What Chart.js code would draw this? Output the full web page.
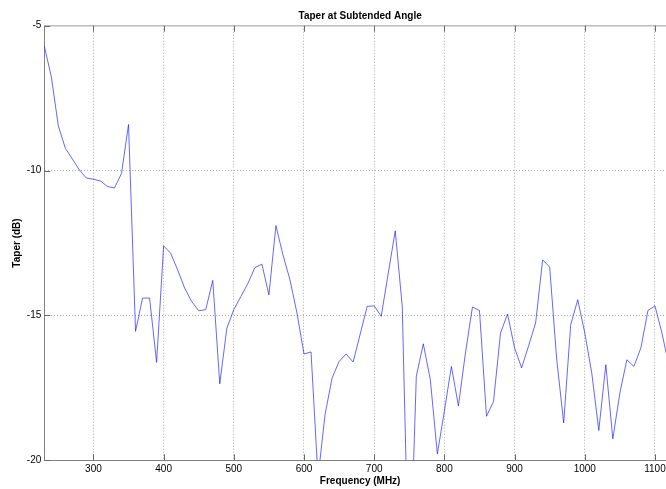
<!DOCTYPE html>
<html>
<head>
<meta charset="utf-8">
<title>Taper at Subtended Angle</title>
<script src="https://cdn.jsdelivr.net/npm/chart.js@4/dist/chart.umd.min.js"></script>
<style>
html, body { margin: 0; padding: 0; overflow: hidden; background: #fff; }
canvas { display: block; }
</style>
</head>
<body>
<canvas id="grafico" width="676" height="489"></canvas>
<script>
// frecuencia (MHz) cada 10 MHz y taper medido (dB)
const frecuencias = [230,240,250,260,270,280,290,300,310,320,330,340,350,360,370,380,390,400,
  410,420,430,440,450,460,470,480,490,500,510,520,530,540,550,560,570,580,590,600,
  610,620,630,640,650,660,670,680,690,700,710,720,730,740,750,760,770,780,790,800,
  810,820,830,840,850,860,870,880,890,900,910,920,930,940,950,960,970,980,990,1000,
  1010,1020,1030,1040,1050,1060,1070,1080,1090,1100,1110,1120];
const taper = [-5.70,-6.76,-8.46,-9.23,-9.60,-9.98,-10.26,-10.30,-10.36,-10.55,-10.60,-10.10,-8.41,-15.55,-14.40,-14.40,-16.62,-12.60,
  -12.85,-13.43,-14.06,-14.52,-14.84,-14.80,-13.79,-17.36,-15.45,-14.80,-14.35,-13.90,-13.35,-13.23,-14.29,-11.90,-12.91,-13.77,-14.92,-16.33,
  -16.26,-20.60,-18.42,-17.16,-16.59,-16.33,-16.61,-15.65,-14.69,-14.67,-15.03,-13.55,-12.08,-14.69,-24.80,-17.10,-15.98,-17.22,-19.78,-18.30,
  -16.76,-18.12,-16.30,-14.71,-14.83,-18.48,-17.97,-15.61,-14.95,-16.12,-16.81,-16.05,-15.26,-13.08,-13.33,-16.50,-18.71,-15.32,-14.46,-15.60,
  -16.99,-18.97,-16.70,-19.26,-17.68,-16.53,-16.76,-16.12,-14.83,-14.67,-15.61,-16.75];
const ticksX = [300,400,500,600,700,800,900,1000,1100];
const ticksY = [-20,-15,-10,-5];

const fuente = "'Liberation Sans', Arial, Helvetica, sans-serif";

// marco superior y marcas de division hacia dentro
const marco = {
  id: 'marco',
  afterDraw(chart) {
    const {ctx, chartArea: a, scales} = chart;
    ctx.save();
    ctx.strokeStyle = '#bdbdbd';
    ctx.lineWidth = 1.5;
    ctx.beginPath();
    ctx.moveTo(a.left, a.top);
    ctx.lineTo(a.right, a.top);
    ctx.stroke();

    ctx.strokeStyle = '#6a6a6a';
    ctx.lineWidth = 1;
    ctx.beginPath();
    ticksX.forEach(v => {
      const px = Math.round(scales.x.getPixelForValue(v)) + 0.5;
      ctx.moveTo(px, a.top); ctx.lineTo(px, a.top + 6);
      ctx.moveTo(px, a.bottom); ctx.lineTo(px, a.bottom - 6);
    });
    ticksY.forEach(v => {
      const py = Math.round(scales.y.getPixelForValue(v)) + 0.5;
      ctx.moveTo(a.left, py); ctx.lineTo(a.left + 6, py);
    });
    ctx.stroke();
    ctx.restore();
  }
};

function graficar() {
  const ctx = document.getElementById('grafico').getContext('2d');
  new Chart(ctx, {
    type: 'line',
    data: {
      datasets: [{
        data: frecuencias.map((f, i) => ({x: f, y: taper[i]})),
        borderColor: 'rgba(0, 0, 255, 0.6)',
        borderWidth: 1,
        pointRadius: 0,
        tension: 0,
        fill: false
      }]
    },
    options: {
      responsive: false,
      animation: false,
      layout: { padding: 0 },
      plugins: {
        legend: { display: false },
        tooltip: { enabled: false },
        title: {
          display: true,
          fullSize: false,
          text: 'Taper at Subtended Angle',
          color: '#000',
          font: { family: fuente, size: 10, weight: 'bold' },
          padding: { top: 10.5, bottom: 3.2 }
        }
      },
      scales: {
        x: {
          type: 'linear',
          min: 230,
          max: 1130,
          afterBuildTicks: s => { s.ticks = ticksX.map(v => ({value: v})); },
          afterFit: s => { s.height = 28.7; },
          grid: { color: '#ababab', lineWidth: 1, drawTicks: false },
          border: { color: '#808080', width: 1, dash: [1, 2] },
          ticks: {
            color: '#000', font: { family: fuente, size: 10 }, padding: 3,
            maxRotation: 0, autoSkip: false, callback: v => String(v)
          },
          title: {
            display: true,
            text: 'Frequency (MHz)',
            color: '#000',
            font: { family: fuente, size: 10, weight: 'bold' },
            padding: { top: 0, bottom: 1.5 }
          }
        },
        y: {
          min: -20,
          max: -5,
          afterBuildTicks: s => { s.ticks = ticksY.map(v => ({value: v})); },
          afterFit: s => { s.width = 44.3; },
          grid: { color: '#ababab', lineWidth: 1, drawTicks: false },
          border: { color: '#808080', width: 1, dash: [1, 2] },
          ticks: { color: '#000', font: { family: fuente, size: 10 }, padding: 3, callback: v => String(v) },
          title: {
            display: true,
            text: 'Taper (dB)',
            color: '#000',
            font: { family: fuente, size: 10, weight: 'bold' },
            padding: { top: 11.5, bottom: 0 }
          }
        }
      }
    },
    plugins: [marco]
  });
}

window.addEventListener('load', graficar);
</script>
</body>
</html>
